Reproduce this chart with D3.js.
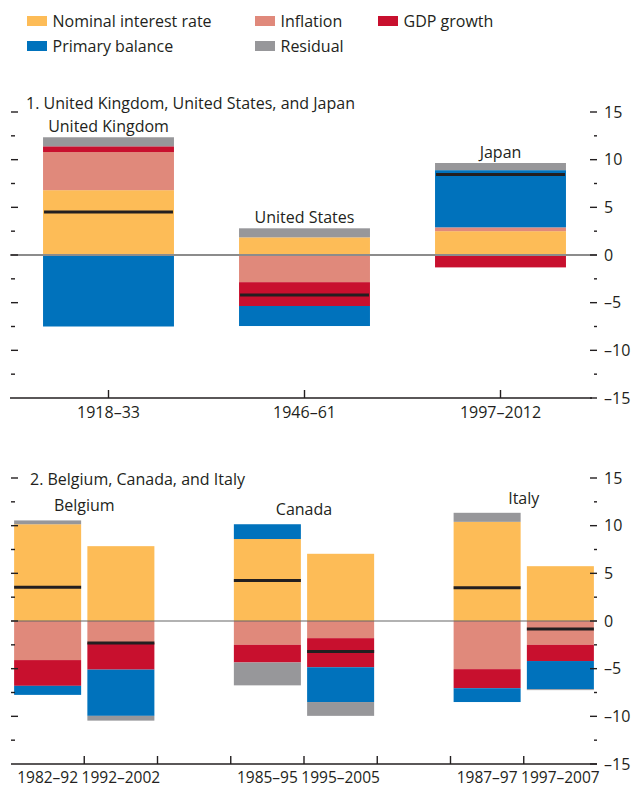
<!DOCTYPE html>
<html>
<head>
<meta charset="utf-8">
<script src="https://cdn.jsdelivr.net/npm/d3@7"></script>
<style>
  html, body { margin: 0; padding: 0; background: #fff; }
  svg text { font-family: "Open Sans", "Noto Sans", sans-serif; fill: #231f20; }
</style>
</head>
<body>
<script>
// ---------- DATA ----------
const components = ["Nominal interest rate", "Inflation", "GDP growth", "Primary balance", "Residual"];
const colors = ["#FDBC57", "#E0897B", "#C8102E", "#0072BC", "#97979A"];

// Panel 1
const p1Title = "1. United Kingdom, United States, and Japan";
const p1Periods = ["1918–33", "1946–61", "1997–2012"];
const p1Countries = ["United Kingdom", "United States", "Japan"];
const p1Nominal   = [6.8, 1.85, 2.5];
const p1Inflation = [4.0, -2.85, 0.4];
const p1GDP       = [0.6, -2.5, -1.3];
const p1Primary   = [-7.5, -2.1, 6.0];
const p1Residual  = [0.95, 0.95, 0.75];
const p1Debt      = [4.5, -4.2, 8.45];

// Panel 2
const p2Title = "2. Belgium, Canada, and Italy";
const p2Periods = ["1982–92", "1992–2002", "1985–95", "1995–2005", "1987–97", "1997–2007"];
const p2Countries = ["Belgium", "Belgium", "Canada", "Canada", "Italy", "Italy"];
const p2Nominal   = [10.15, 7.85, 8.6, 7.05, 10.4, 5.75];
const p2Inflation = [-4.1, -2.3, -2.5, -1.8, -5.05, -2.5];
const p2GDP       = [-2.7, -2.8, -1.85, -3.05, -2.0, -1.7];
const p2Primary   = [-0.95, -4.85, 1.55, -3.65, -1.45, -2.95];
const p2Residual  = [0.4, -0.5, -2.4, -1.45, 0.95, -0.1];
const p2Debt      = [3.55, -2.3, 4.25, -3.2, 3.5, -0.85];

const yTickValues = d3.range(-15, 15.001, 2.5);
const yDomain = [-15, 15];

// ---------- CHART ----------
const W = 632, H = 787;
const svg = d3.select("body").append("svg").attr("width", W).attr("height", H);
const ink = "#231f20";
const fmt = v => (v < 0 ? "–" + Math.abs(v) : String(v));

// Legend
const legendPos = [[27, 16], [255, 16], [378, 16], [27, 41], [255, 41]];
const lg = svg.append("g");
components.forEach((c, i) => {
  const [lx, ly] = legendPos[i];
  lg.append("rect").attr("x", lx).attr("y", ly).attr("width", 20).attr("height", 10).attr("fill", colors[i]);
  lg.append("text").attr("x", lx + 25.5).attr("y", ly + 10.5).attr("font-size", 16).text(c);
});

function buildRows(periods, countries, arrs, debt) {
  return periods.map((p, i) => {
    const r = { period: p, country: countries[i], debt: debt[i] };
    components.forEach((c, k) => r[c] = arrs[k][i]);
    return r;
  });
}

function drawPanel(opt) {
  const g = svg.append("g");
  const y = d3.scaleLinear().domain(yDomain).range(opt.yRange);
  const x = d3.scaleBand().domain(opt.slots).range(opt.xRange)
    .paddingInner(opt.padIn).paddingOuter(opt.padIn / 2);
  const rows = opt.rows;
  const stack = d3.stack().keys(components).offset(d3.stackOffsetDiverging);
  const series = stack(rows);

  // bars
  series.forEach((s, k) => {
    g.append("g").selectAll("rect").data(s).join("rect")
      .attr("x", d => x(d.data.period))
      .attr("width", x.bandwidth())
      .attr("y", d => y(Math.max(d[0], d[1])))
      .attr("height", d => Math.abs(y(d[0]) - y(d[1])))
      .attr("fill", colors[k]);
  });

  // zero line
  g.append("line").attr("x1", opt.zeroX[0]).attr("x2", opt.zeroX[1])
    .attr("y1", y(0)).attr("y2", y(0))
    .attr("stroke", opt.zeroColor).attr("stroke-width", opt.zeroWidth);

  // debt change lines
  g.append("g").selectAll("line").data(rows).join("line")
    .attr("x1", d => x(d.period) + opt.lineInset)
    .attr("x2", d => x(d.period) + x.bandwidth() - opt.lineInset)
    .attr("y1", d => y(d.debt)).attr("y2", d => y(d.debt))
    .attr("stroke", ink).attr("stroke-width", 3);

  // left ticks
  const lt = g.append("g");
  yTickValues.filter(v => v > -15).forEach(v => {
    const major = Math.abs(v % 5) < 1e-9;
    lt.append("line").attr("x1", 11).attr("x2", major ? 18 : 15)
      .attr("y1", y(v)).attr("y2", y(v)).attr("stroke", ink).attr("stroke-width", 1.4);
  });
  // right axis
  const rt = g.append("g");
  yTickValues.forEach(v => {
    const major = Math.abs(v % 5) < 1e-9;
    rt.append("line").attr("x1", major ? 590 : 594).attr("x2", 597)
      .attr("y1", y(v)).attr("y2", y(v)).attr("stroke", ink).attr("stroke-width", 1.4);
    if (major) rt.append("text").attr("x", 604).attr("y", y(v) + 5.7)
      .attr("font-size", 16).text(fmt(v));
  });

  // baseline
  g.append("line").attr("x1", opt.baseX[0]).attr("x2", opt.baseX[1])
    .attr("y1", y(-15)).attr("y2", y(-15)).attr("stroke", ink).attr("stroke-width", 1.5);
  opt.tickXs(x).forEach(tx => {
    g.append("line").attr("x1", tx).attr("x2", tx)
      .attr("y1", y(-15)).attr("y2", y(-15) - 8).attr("stroke", ink).attr("stroke-width", 1.4);
  });

  // x labels
  g.append("g").selectAll("text").data(rows).join("text")
    .attr("x", d => x(d.period) + x.bandwidth() / 2)
    .attr("y", opt.xLabelY)
    .attr("text-anchor", "middle").attr("font-size", opt.xLabelSize)
    .text(d => d.period);

  // country labels
  const groups = d3.groups(rows, d => d.country);
  groups.forEach(([country, rs]) => {
    const cx = d3.mean(rs, d => x(d.period) + x.bandwidth() / 2);
    const top = d3.max(rs, d => d3.sum(components, c => Math.max(0, d[c])));
    g.append("text").attr("x", cx).attr("y", y(top) - opt.labelGap)
      .attr("text-anchor", "middle").attr("font-size", 16).text(country);
  });

  // title
  g.append("text").attr("x", opt.titlePos[0]).attr("y", opt.titlePos[1])
    .attr("font-size", 16).text(opt.title);
}

// Panel 1
const rows1 = buildRows(p1Periods, p1Countries,
  [p1Nominal, p1Inflation, p1GDP, p1Primary, p1Residual], p1Debt);
drawPanel({
  rows: rows1,
  slots: p1Periods,
  xRange: [10.5, 598.5],
  padIn: 0.332,
  yRange: [398, 112],
  zeroX: [10, 597], zeroColor: "#8c8c8c", zeroWidth: 2,
  lineInset: 1,
  baseX: [10, 592],
  tickXs: x => p1Periods.map(p => x(p) + x.bandwidth() / 2),
  xLabelY: 418,
  xLabelSize: 16,
  labelGap: 5,
  title: p1Title, titlePos: [26, 109]
});

// Panel 2 — spacer slot between countries
const slots2 = [];
p2Periods.forEach((p, i) => {
  if (i > 0 && p2Countries[i] !== p2Countries[i - 1]) slots2.push("gap" + i);
  slots2.push(p);
});
const rows2 = buildRows(p2Periods, p2Countries,
  [p2Nominal, p2Inflation, p2GDP, p2Primary, p2Residual], p2Debt);
drawPanel({
  rows: rows2,
  slots: slots2,
  xRange: [11, 597],
  padIn: 0.085,
  yRange: [764, 478],
  zeroX: [11, 597], zeroColor: "#666666", zeroWidth: 1.2,
  lineInset: 0,
  baseX: [11, 597],
  tickXs: x => d3.range(1, slots2.length).map(i => x.range()[0] + i * x.step()),
  xLabelY: 783,
  xLabelSize: 15.5,
  labelGap: 9,
  title: p2Title, titlePos: [30, 485]
});
</script>
</body>
</html>
